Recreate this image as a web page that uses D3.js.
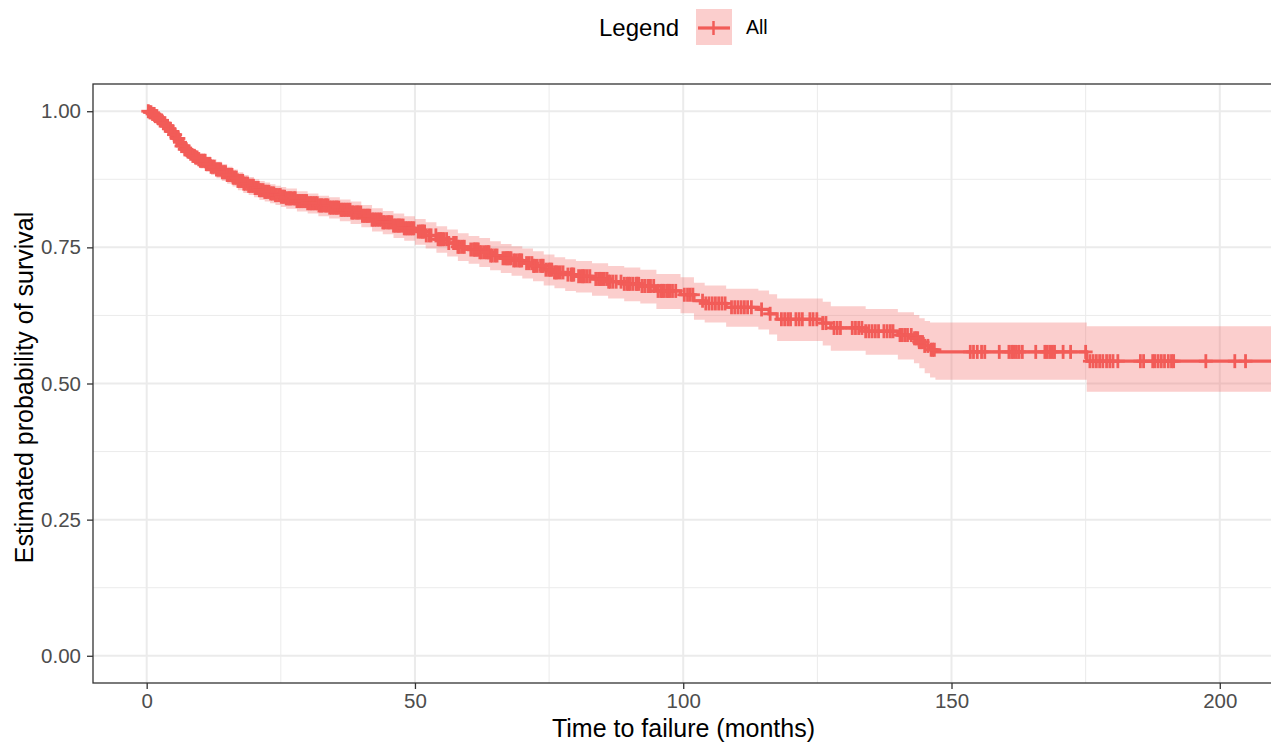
<!DOCTYPE html>
<html>
<head>
<meta charset="utf-8">
<script src="https://cdn.jsdelivr.net/npm/d3@7"></script>
<style>
  html, body { margin: 0; padding: 0; background: #ffffff; }
  svg { display: block; font-family: "Liberation Sans", Arial, Helvetica, sans-serif; }
</style>
</head>
<body>
<svg id="chart" width="1271" height="742"></svg>
<script>
// ---------------- data ----------------
const stepTimes = [0,0.5,1,1.5,2,2.5,3,3.5,4,4.5,5,5.5,6,6.5,7,7.5,8,8.5,9,9.5,10,11,12,13,14,15,16,17,18,19,20,21,22,23,24,25,26,28,30,32,34,36,38,40,42,44,46,48,50,52,54,56,58,60,62,64,66,68,70,72,74,76,78,80,83,86,89,92,95,99.5,102,104,108,114,116,117.5,126,127.5,134,140,143,144,145,146,147,175.2,212];
const survival = [1.000,0.998,0.995,0.991,0.987,0.983,0.978,0.973,0.968,0.963,0.957,0.950,0.943,0.936,0.930,0.926,0.922,0.918,0.915,0.912,0.909,0.903,0.898,0.893,0.888,0.883,0.878,0.872,0.867,0.863,0.859,0.855,0.852,0.849,0.846,0.843,0.840,0.835,0.831,0.827,0.823,0.819,0.814,0.808,0.801,0.796,0.790,0.785,0.779,0.772,0.765,0.758,0.751,0.746,0.741,0.735,0.730,0.726,0.721,0.716,0.709,0.704,0.700,0.697,0.692,0.687,0.683,0.679,0.670,0.663,0.652,0.647,0.640,0.636,0.628,0.618,0.611,0.602,0.596,0.589,0.583,0.576,0.569,0.562,0.558,0.541,0.541];
const lowerCI = [1.000,0.994,0.990,0.985,0.980,0.975,0.969,0.964,0.958,0.952,0.946,0.938,0.931,0.924,0.917,0.913,0.909,0.905,0.901,0.898,0.895,0.889,0.883,0.877,0.872,0.867,0.862,0.855,0.850,0.846,0.842,0.837,0.834,0.831,0.828,0.824,0.821,0.816,0.812,0.807,0.803,0.798,0.793,0.787,0.779,0.774,0.767,0.762,0.755,0.748,0.740,0.733,0.725,0.720,0.714,0.708,0.703,0.698,0.693,0.688,0.680,0.675,0.670,0.667,0.661,0.656,0.651,0.647,0.637,0.629,0.617,0.612,0.604,0.599,0.590,0.578,0.570,0.560,0.553,0.544,0.537,0.528,0.519,0.511,0.507,0.485,0.485];
const upperCI = [1.000,1.000,0.999,0.996,0.993,0.990,0.986,0.982,0.977,0.972,0.967,0.961,0.954,0.948,0.942,0.938,0.935,0.931,0.928,0.925,0.922,0.917,0.912,0.907,0.903,0.898,0.893,0.888,0.883,0.879,0.875,0.872,0.869,0.866,0.863,0.861,0.858,0.853,0.849,0.845,0.842,0.838,0.834,0.828,0.822,0.817,0.812,0.807,0.802,0.796,0.789,0.783,0.776,0.771,0.767,0.761,0.756,0.752,0.748,0.743,0.737,0.732,0.728,0.725,0.721,0.716,0.713,0.709,0.701,0.695,0.685,0.680,0.674,0.671,0.664,0.656,0.650,0.642,0.637,0.631,0.626,0.620,0.615,0.612,0.612,0.605,0.605];
const censorTimes = [
  0.3,0.6,0.8,1.1,1.4,1.6,1.9,2.2,2.5,2.8,3.1,3.4,3.7,3.9,4.2,4.5,4.8,5.1,5.3,5.6,5.9,6.2,6.5,6.8,7.1,7.4,7.7,7.9,8.2,8.6,8.9,9.1,9.4,9.7,10.0,10.3,10.6,10.9,11.1,11.5,11.8,12.0,12.3,12.6,13.0,13.3,13.5,13.8,14.1,14.4,14.7,15.0,15.3,15.5,15.9,16.1,16.4,16.7,17.0,17.3,17.6,17.9,18.1,18.4,18.8,19.0,19.3,19.6,19.9,20.2,20.5,20.8,21.0,21.3,21.7,22.0,22.2,22.5,22.8,23.1,23.4,23.7,24.0,24.2,24.6,24.9,25.1,25.4,25.7,26.0,26.3,26.6,26.8,27.1,27.5,27.7,28.0,28.3,28.6,28.9,29.2,29.5,29.8,30.0,30.4,30.6,30.9,31.2,31.5,31.8,32.1,32.4,32.6,32.9,33.3,33.5,33.8,34.1,34.4,34.7,35.0,35.3,35.5,35.8,36.2,36.4,36.7,37.0,37.3,37.6,37.9,38.2,38.4,38.7,39.1,39.3,39.6,39.9,40.2,40.5,40.8,41.1,41.3,41.6,42.0,42.2,42.5,42.8,43.1,43.4,43.7,44.0,44.2,44.5,44.9,45.1,45.4,45.7,46.0,46.3,46.6,46.9,47.1,47.4,47.8,48.0,48.3,48.6,48.9,49.2,49.5,49.8,
  50.6,51.0,51.3,51.5,51.8,52.1,52.6,53.0,53.9,54.3,54.6,54.8,55.1,55.4,55.9,56.3,57.2,57.5,57.7,58.0,58.3,58.8,59.2,60.4,60.9,61.1,61.3,61.6,61.8,62.1,62.4,62.9,63.3,63.6,63.8,64.1,64.4,64.9,65.3,66.4,66.8,67.1,67.3,67.6,67.9,68.4,68.8,69.3,69.6,69.9,70.8,71.3,71.8,72.1,72.3,72.8,73.4,73.7,73.9,74.4,74.9,75.2,75.5,76.0,76.3,76.6,77.1,77.6,78.5,79.1,79.3,79.6,80.5,81.0,81.3,81.6,82.1,82.6,83.7,84.2,84.5,84.8,85.3,85.8,86.1,86.4,86.9,87.5,88.4,89.0,89.5,89.8,90.1,90.6,91.2,91.4,91.7,92.3,92.8,93.4,93.7,93.9,94.5,
  95.3,95.8,96.1,96.4,96.9,97.2,97.5,98.0,98.6,100.2,100.8,101.3,101.8,103.6,104.2,104.8,105.4,106.0,106.6,107.2,107.8,109.0,109.6,110.2,110.8,111.4,112.0,112.7,114.6,116.2,118.3,118.9,119.5,120.0,121.0,121.6,122.2,123.6,124.2,124.9,126.0,126.6,128.1,128.7,129.3,131.5,132.1,132.7,133.3,134.0,134.6,135.2,135.8,136.4,137.4,138.0,138.6,139.1,140.4,140.8,141.3,141.8,142.5,143.1,143.4,143.7,144.0,144.3,144.6,145.0,145.6,146.2,146.5,146.8,
  153.5,154.1,154.8,155.6,156.2,158.9,160.7,161.2,161.6,162.1,162.6,163.2,165.7,167.4,167.8,168.3,168.8,169.2,170.8,172.2,175.0,
  175.8,176.4,177.0,177.6,178.2,178.9,179.5,180.1,181.0,185.2,185.8,187.5,187.9,188.5,189.1,189.7,190.4,191.0,191.4,197.4,202.8,204.8
];
const xTicks = [0, 50, 100, 150, 200];
const xMinor = [25, 75, 125, 175];
const yTicks = [0, 0.25, 0.5, 0.75, 1];
const yMinor = [0.125, 0.375, 0.625, 0.875];
const yTickLabels = ["0.00", "0.25", "0.50", "0.75", "1.00"];
const legendTitle = "Legend";
const legendLabel = "All";
const xTitle = "Time to failure (months)";
const yTitle = "Estimated probability of survival";

// ---------------- layout ----------------
const lineColor = "#F25C58";
const panel = { left: 93, top: 84, right: 1274, bottom: 683 };
const svg = d3.select("#chart");

const x = d3.scaleLinear().domain([-10.005, 210.105]).range([panel.left, panel.right]);
const y = d3.scaleLinear().domain([-0.05, 1.05]).range([panel.bottom, panel.top]);

svg.append("rect").attr("x", panel.left).attr("y", panel.top)
  .attr("width", panel.right - panel.left).attr("height", panel.bottom - panel.top)
  .attr("fill", "#ffffff");

// grid
const grid = svg.append("g");
grid.selectAll(".xminor").data(xMinor).join("line")
  .attr("x1", d => x(d)).attr("x2", d => x(d)).attr("y1", panel.top).attr("y2", panel.bottom)
  .attr("stroke", "#EBEBEB").attr("stroke-width", 1);
grid.selectAll(".yminor").data(yMinor).join("line")
  .attr("x1", panel.left).attr("x2", panel.right).attr("y1", d => y(d)).attr("y2", d => y(d))
  .attr("stroke", "#EBEBEB").attr("stroke-width", 1);
grid.selectAll(".xmajor").data(xTicks).join("line")
  .attr("x1", d => x(d)).attr("x2", d => x(d)).attr("y1", panel.top).attr("y2", panel.bottom)
  .attr("stroke", "#EBEBEB").attr("stroke-width", 2);
grid.selectAll(".ymajor").data(yTicks).join("line")
  .attr("x1", panel.left).attr("x2", panel.right).attr("y1", d => y(d)).attr("y2", d => y(d))
  .attr("stroke", "#EBEBEB").attr("stroke-width", 2);

svg.append("clipPath").attr("id", "clip").append("rect")
  .attr("x", panel.left).attr("y", panel.top)
  .attr("width", panel.right - panel.left).attr("height", panel.bottom - panel.top);
const plot = svg.append("g").attr("clip-path", "url(#clip)");

const rows = stepTimes.map((t, i) => ({ t, s: survival[i], lo: lowerCI[i], hi: upperCI[i] }));

// confidence band
const area = d3.area().curve(d3.curveStepAfter)
  .x(d => x(d.t)).y0(d => y(d.lo)).y1(d => y(d.hi));
plot.append("path").datum(rows).attr("d", area)
  .attr("fill", lineColor).attr("fill-opacity", 0.3);

// survival step line
const line = d3.line().curve(d3.curveStepAfter).x(d => x(d.t)).y(d => y(d.s));
plot.append("path").datum(rows).attr("d", line)
  .attr("fill", "none").attr("stroke", lineColor).attr("stroke-width", 3.2);

// censor marks
const bis = d3.bisector(d => d.t).right;
function survAt(t) { const i = Math.max(0, bis(rows, t) - 1); return rows[i].s; }
const cg = plot.append("g").attr("stroke", lineColor).attr("stroke-width", 2.8);
censorTimes.forEach(t => {
  const cx = x(t), cy = y(survAt(t));
  cg.append("line").attr("x1", cx).attr("x2", cx).attr("y1", cy - 7).attr("y2", cy + 7);
  cg.append("line").attr("x1", cx - 7).attr("x2", cx + 7).attr("y1", cy).attr("y2", cy);
});

// panel border
svg.append("rect").attr("x", panel.left).attr("y", panel.top)
  .attr("width", panel.right - panel.left).attr("height", panel.bottom - panel.top)
  .attr("fill", "none").attr("stroke", "#333333").attr("stroke-width", 1.3);

// axes
const xAxis = d3.axisBottom(x).tickValues(xTicks).tickSize(6).tickPadding(4).tickFormat(d3.format("d"));
const gx = svg.append("g").attr("transform", `translate(0,${panel.bottom})`).call(xAxis);
gx.select(".domain").remove();
gx.selectAll(".tick line").attr("stroke", "#333333").attr("stroke-width", 1.3);
gx.selectAll(".tick text").attr("fill", "#4D4D4D").attr("font-size", 20.5)
  .attr("font-family", "Liberation Sans, Arial, sans-serif").attr("dy", "0.72em");

const yAxis = d3.axisLeft(y).tickValues(yTicks).tickSize(6).tickPadding(6)
  .tickFormat((d, i) => yTickLabels[i]);
const gy = svg.append("g").attr("transform", `translate(${panel.left},0)`).call(yAxis);
gy.select(".domain").remove();
gy.selectAll(".tick line").attr("stroke", "#333333").attr("stroke-width", 1.3);
gy.selectAll(".tick text").attr("fill", "#4D4D4D").attr("font-size", 20.5)
  .attr("font-family", "Liberation Sans, Arial, sans-serif");

// axis titles
svg.append("text").attr("x", (panel.left + panel.right) / 2).attr("y", 737)
  .attr("text-anchor", "middle").attr("font-size", 25).attr("fill", "#000")
  .text(xTitle);
svg.append("text").attr("transform", `translate(33,${(panel.top + panel.bottom) / 2 + 4}) rotate(-90)`)
  .attr("text-anchor", "middle").attr("font-size", 25).attr("fill", "#000")
  .text(yTitle);

// legend
const lg = svg.append("g");
lg.append("text").attr("x", 599).attr("y", 36).attr("font-size", 24).attr("fill", "#000").text(legendTitle);
lg.append("rect").attr("x", 696).attr("y", 9).attr("width", 36).attr("height", 36)
  .attr("fill", lineColor).attr("fill-opacity", 0.3);
lg.append("line").attr("x1", 698).attr("x2", 730).attr("y1", 28).attr("y2", 28)
  .attr("stroke", lineColor).attr("stroke-width", 3.2);
lg.append("line").attr("x1", 713.5).attr("x2", 713.5).attr("y1", 21).attr("y2", 35)
  .attr("stroke", lineColor).attr("stroke-width", 2.5);
lg.append("text").attr("x", 746).attr("y", 34).attr("font-size", 19.5).attr("fill", "#000").text(legendLabel);
</script>
</body>
</html>
